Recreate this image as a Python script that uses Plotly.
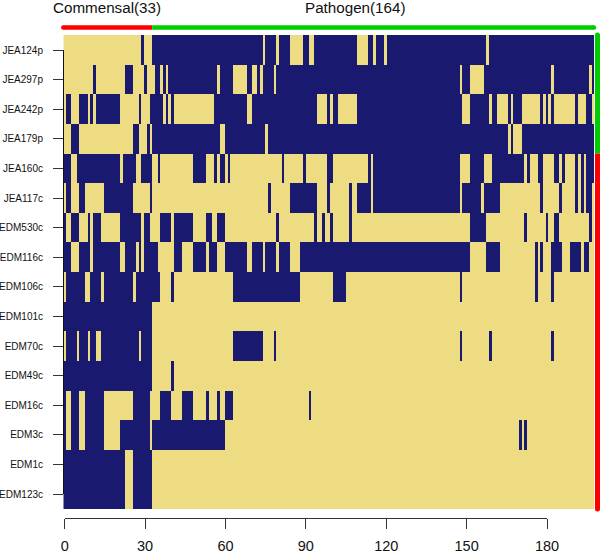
import plotly.graph_objects as go

row_labels = ["JEA124p","JEA297p","JEA242p","JEA179p","JEA160c","JEA117c","EDM530c","EDM116c",
              "EDM106c","EDM101c","EDM70c","EDM49c","EDM16c","EDM3c","EDM1c","EDM123c"]
n_cols = 197
x_ticks = [0,30,60,90,120,150,180]

# dark (present) spans per strain, [start, end) in column numbers
JEA124p = [(29,30),(33,74),(75,79),(80,84),(89,91),(93,109),(113,115),(116,119),(120,157),(158,197)]
JEA297p = [(11,12),(23,26),(30,31),(34,36),(37,38),(39,57),(58,63),(68,70),(72,73),(74,78),(79,147),(148,151),(156,181),(182,195),(196,197)]
JEA242p = [(1,3),(6,9),(10,11),(12,21),(28,29),(32,37),(38,39),(40,41),(56,68),(70,94),(98,99),(100,102),(109,148),(151,158),(159,161),(165,166),(167,170),(177,178),(179,180),(181,182),(190,191),(194,196)]
JEA179p = [(3,6),(26,28),(31,32),(33,58),(60,75),(76,165),(166,167),(170,197)]
JEA160c = [(0,3),(5,21),(22,27),(29,33),(35,36),(48,53),(56,57),(58,60),(61,62),(81,82),(89,90),(98,100),(113,114),(115,147),(151,156),(159,171),(172,173),(176,178),(182,184),(185,186),(190,191),(192,193),(194,197)]
JEA117c = [(1,3),(6,8),(15,26),(32,33),(76,77),(84,94),(98,99),(106,107),(109,114),(115,147),(148,155),(156,162),(177,178),(184,185),(190,191),(192,193),(194,196)]
EDM530c = [(0,1),(3,6),(9,10),(11,14),(21,29),(30,32),(36,40),(41,48),(53,55),(57,60),(79,80),(93,94),(96,97),(99,100),(106,107),(151,157),(171,172),(179,180),(182,184),(195,196)]
EDM116c = [(0,3),(6,10),(11,21),(23,27),(28,29),(30,35),(41,44),(48,53),(54,57),(60,68),(70,74),(75,79),(80,84),(88,151),(157,162),(175,176),(177,178),(181,185),(188,192),(193,195)]
EDM106c = [(1,8),(10,14),(15,26),(27,36),(40,41),(63,88),(100,105),(147,148),(175,176),(181,182)]
EDM101c = [(0,33)]
EDM70c  = [(1,5),(6,9),(10,12),(14,28),(29,33),(63,74),(78,79),(147,148),(158,159),(181,182)]
EDM49c  = [(0,33),(40,41)]
EDM16c  = [(0,1),(3,6),(8,15),(26,32),(36,40),(44,48),(53,54),(57,58),(60,63),(91,92)]
EDM3c   = [(0,1),(3,6),(8,15),(21,32),(33,60),(169,170),(171,172)]
EDM1c   = [(0,23),(26,33)]
EDM123c = [(0,23),(26,33)]
rows = [JEA124p,JEA297p,JEA242p,JEA179p,JEA160c,JEA117c,EDM530c,EDM116c,EDM106c,EDM101c,EDM70c,EDM49c,EDM16c,EDM3c,EDM1c,EDM123c]

commensal_n = 33
commensal_rows = 4  # rows above the red side bar
DARK, LIGHT = "#191970", "#EEDC82"
RED, GREEN = "#FF0000", "#00CD00"
W, H = 600, 555
FONT = "Liberation Sans, Helvetica, Arial, sans-serif"

z = []
for spans in rows:
    r = [0]*n_cols
    for a, b in spans:
        for i in range(a, b):
            r[i] = 1
    z.append(r)

L, R, T, B = 63.3, 594.0, 35.0, 509.0
BAR_Y, BAR_X = 27.5, 597.5
px = lambda v: v/W
py = lambda v: 1 - v/H

fig = go.Figure()
fig.add_trace(go.Heatmap(z=z, x=list(range(n_cols)), y=list(range(len(rows))),
                         colorscale=[[0,LIGHT],[1,DARK]], zmin=0, zmax=1, showscale=False, hoverinfo="skip"))
fig.add_trace(go.Scatter(x=[0], y=[0], xaxis="x2", yaxis="y2", mode="markers",
                         marker=dict(opacity=0), hoverinfo="skip", showlegend=False))

x_tick_left, x_tick_right = 64.7, 547.0
y_tick_top, y_tick_bot = 50.0, 494.0
fig.update_layout(
    width=W, height=H, autosize=False, margin=dict(l=0,r=0,t=0,b=0,pad=0),
    paper_bgcolor="white", plot_bgcolor="rgba(0,0,0,0)", showlegend=False,
    font=dict(family=FONT, color="black"),
    xaxis=dict(domain=[px(L),px(R)], range=[-0.5,n_cols-0.5], visible=False, automargin=False),
    yaxis=dict(domain=[py(B),py(T)], range=[len(rows)-0.5,-0.5], visible=False, automargin=False),
    xaxis2=dict(domain=[px(x_tick_left),px(x_tick_right)], range=[0,180], anchor="free", position=py(518.3),
                tickmode="array", tickvals=x_ticks, ticktext=[str(t) for t in x_ticks], automargin=False,
                ticks="outside", ticklen=10, tickwidth=1, tickcolor="#333", showline=True, linecolor="#333", linewidth=1,
                showgrid=False, zeroline=False, tickfont=dict(size=14.5,color="#111"), ticklabelstandoff=4),
    yaxis2=dict(domain=[py(y_tick_bot),py(y_tick_top)], range=[len(rows)-1,0], anchor="free", position=px(63), automargin=False,
                tickmode="array", tickvals=list(range(len(rows))), ticktext=row_labels,
                ticks="outside", ticklen=10, tickwidth=1, tickcolor="#333", showline=True, linecolor="#111", linewidth=1,
                showgrid=False, zeroline=False, tickfont=dict(size=10,color="#111"), ticklabelstandoff=8),
    annotations=[
        dict(text="Commensal(33)", xref="paper", yref="paper", x=px(106.5), y=py(8), showarrow=False,
             xanchor="center", yanchor="middle", font=dict(size=15.2,color="#111")),
        dict(text="Pathogen(164)", xref="paper", yref="paper", x=px(355), y=py(8), showarrow=False,
             xanchor="center", yanchor="middle", font=dict(size=15.2,color="#111")),
    ],
)

def hbar(x0, x1, color):
    fig.add_shape(type="line", xref="x", yref="paper", x0=x0, x1=x1, y0=py(BAR_Y), y1=py(BAR_Y),
                  line=dict(color=color,width=4.5), layer="above")
def vbar(y0, y1, color):
    fig.add_shape(type="line", xref="paper", yref="y", x0=px(BAR_X), x1=px(BAR_X), y0=y0, y1=y1,
                  line=dict(color=color,width=5), layer="above")
def cap(cx, cy, r, color):
    fig.add_shape(type="circle", xref="paper", yref="paper", x0=px(cx-r), x1=px(cx+r), y0=py(cy+r), y1=py(cy-r),
                  fillcolor=color, line=dict(width=0), layer="above")
hbar(-0.5, commensal_n-0.5, RED)
hbar(commensal_n-0.5, n_cols-0.5, GREEN)
vbar(-0.5, commensal_rows-0.5, GREEN)
vbar(commensal_rows-0.5, len(rows)-0.5, RED)
cap(L, BAR_Y, 2.25, RED)
cap(R, BAR_Y, 2.25, GREEN)
cap(BAR_X, T, 2.5, GREEN)
cap(BAR_X, B, 2.5, RED)

fig.write_html("out.html", config=dict(displayModeBar=False),
               post_script="document.body.style.margin='0';document.body.style.overflow='hidden';")
